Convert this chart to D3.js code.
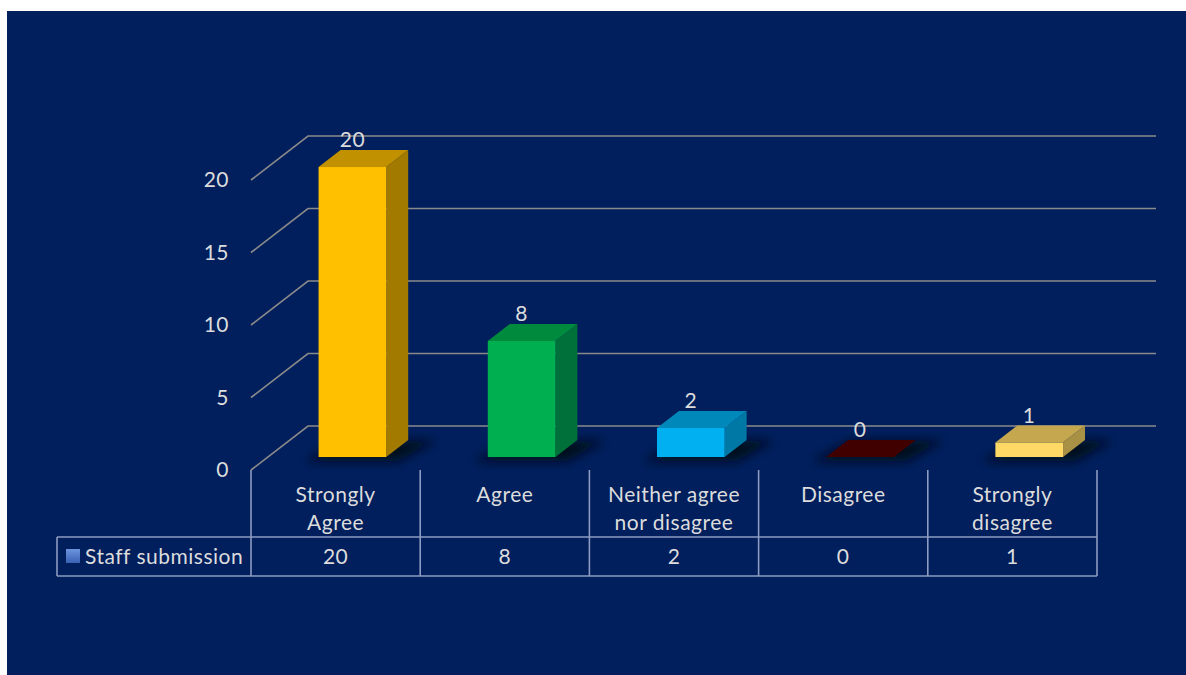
<!DOCTYPE html>
<html><head><meta charset="utf-8">
<script src="https://cdn.jsdelivr.net/npm/d3@7"></script>
<style>html,body{margin:0;padding:0;background:#fff;}svg{display:block;}</style>
</head><body>
<script>
const categories = ["Strongly Agree", "Agree", "Neither agree nor disagree", "Disagree", "Strongly disagree"];
const categoryLines = [["Strongly", "Agree"], ["Agree"], ["Neither agree", "nor disagree"], ["Disagree"], ["Strongly", "disagree"]];
const seriesName = "Staff submission";
const values = [20, 8, 2, 0, 1];
const yTicks = [0, 5, 10, 15, 20];
const frontColors = ["#FFC000", "#00B050", "#00B0F0", "#400000", "#FFD966"];
const topColors = ["#C29100", "#008A3E", "#0088BA", "#400000", "#C4A74F"];
const sideColors = ["#A27A00", "#00703A", "#0078A6", "#300000", "#A89044"];

const W = 1186, H = 675;
const svg = d3.select("body").append("svg").attr("width", W).attr("height", H);
const defs = svg.append("defs");
defs.append("filter").attr("id", "shadow").attr("x", "-50%").attr("y", "-100%").attr("width", "200%").attr("height", "300%")
  .append("feGaussianBlur").attr("stdDeviation", 5);
const lg = defs.append("linearGradient").attr("id", "legGrad").attr("x1", 0).attr("y1", 0).attr("x2", 0).attr("y2", 1);
lg.append("stop").attr("offset", 0).attr("stop-color", "#6C94DE");
lg.append("stop").attr("offset", 1).attr("stop-color", "#3A62B4");

svg.append("rect").attr("x", 7).attr("y", 11).attr("width", W - 7).attr("height", H - 11).attr("fill", "#001F5C");

const FONT = "Lato, 'Open Sans', sans-serif";
const FS = 21, LS = 0.5;
const TXT = "#DCDCDC";

// geometry
const x0 = 251, x1 = 1097, floorY = 470;
const depthX = 57, depthY = -44;
const tFront = 0.295, tBack = 0.68;
const x = d3.scaleBand().domain(categories).range([x0, x1]).padding(0);
const h = d3.scaleLinear().domain([0, 20]).range([0, 290]);
const barW = x.bandwidth() / 2.5;

function styleText(sel) {
  return sel.attr("fill", TXT).attr("font-family", FONT).attr("font-size", FS).attr("letter-spacing", LS);
}

// gridlines (left wall diagonals + back wall)
const grid = svg.append("g").attr("fill", "none").attr("stroke", "#8A8A8A").attr("stroke-width", 1.6);
yTicks.forEach(v => {
  const yf = floorY - h(v);
  grid.append("path").attr("d", `M${x0},${yf}L${x0 + depthX},${yf + depthY}L1156,${yf + depthY}`);
});

// y tick labels
styleText(svg.append("g").selectAll("text").data(yTicks).join("text")
  .attr("x", 229).attr("y", v => floorY - h(v)).attr("dy", "0.35em")
  .attr("text-anchor", "end"))
  .text(v => v);

// bars
const bars = categories.map((c, i) => {
  const cx = x(c) + x.bandwidth() / 2 + tFront * depthX;
  const fx0 = cx - barW / 2, fx1 = cx + barW / 2;
  const fyb = floorY + tFront * depthY;
  const dX = (tBack - tFront) * depthX, dY = (tBack - tFront) * depthY;
  const fyt = fyb - h(values[i]);
  return {i, c, v: values[i], cx, fx0, fx1, fyb, fyt, dX, dY};
});

// shadows
svg.append("g").selectAll("path").data(bars).join("path")
  .attr("d", b => `M${b.fx0 - 12},${b.fyb + 4}L${b.fx1 + 12},${b.fyb + 4}L${b.fx1 + b.dX + 26},${b.fyb + b.dY + 1}L${b.fx0 + b.dX + 4},${b.fyb + b.dY + 1}Z`)
  .attr("fill", "#000814").attr("opacity", 0.9).attr("filter", "url(#shadow)");

const bg = svg.append("g");
bars.forEach(b => {
  const g = bg.append("g");
  g.append("path").attr("d", `M${b.fx1},${b.fyb}L${b.fx1 + b.dX},${b.fyb + b.dY}L${b.fx1 + b.dX},${b.fyt + b.dY}L${b.fx1},${b.fyt}Z`)
    .attr("fill", sideColors[b.i]);
  g.append("path").attr("d", `M${b.fx0},${b.fyt}L${b.fx1},${b.fyt}L${b.fx1 + b.dX},${b.fyt + b.dY}L${b.fx0 + b.dX},${b.fyt + b.dY}Z`)
    .attr("fill", topColors[b.i]);
  if (b.v > 0) {
    g.append("rect").attr("x", b.fx0).attr("y", b.fyt).attr("width", b.fx1 - b.fx0).attr("height", b.fyb - b.fyt)
      .attr("fill", frontColors[b.i]);
  }
});

// data labels
styleText(svg.append("g").selectAll("text").data(bars).join("text")
  .attr("x", b => b.cx).attr("y", b => b.fyt + b.dY - 3)
  .attr("text-anchor", "middle"))
  .text(b => b.v);

// data table
const tTop = 470, tMid = 537, tBot = 576, legL = 57;
const tl = svg.append("g").attr("stroke", "#8D9CC0").attr("stroke-width", 1.6).attr("fill", "none");
tl.append("line").attr("x1", legL).attr("x2", x1).attr("y1", tMid).attr("y2", tMid);
tl.append("line").attr("x1", legL).attr("x2", x1).attr("y1", tBot).attr("y2", tBot);
tl.append("line").attr("x1", legL).attr("x2", legL).attr("y1", tMid).attr("y2", tBot);
const bounds = categories.map(c => x(c)).concat([x1]);
tl.selectAll("line.v").data(bounds).join("line").attr("class", "v")
  .attr("x1", d => d).attr("x2", d => d).attr("y1", tTop).attr("y2", tBot);

// category labels
const cl = styleText(svg.append("g")).attr("text-anchor", "middle");
categories.forEach((c, i) => {
  const t = cl.append("text");
  categoryLines[i].forEach((ln, k) => {
    t.append("tspan").attr("x", x(c) + x.bandwidth() / 2).attr("y", 502 + k * 28).text(ln);
  });
});
// values row
styleText(svg.append("g").selectAll("text").data(values).join("text")
  .attr("x", (v, i) => x(categories[i]) + x.bandwidth() / 2).attr("y", (tMid + tBot) / 2).attr("dy", "0.35em")
  .attr("text-anchor", "middle"))
  .text(v => v);

// legend key
svg.append("rect").attr("x", 66).attr("y", 549).attr("width", 14).attr("height", 14).attr("fill", "url(#legGrad)");
styleText(svg.append("text").attr("x", 85).attr("y", (tMid + tBot) / 2).attr("dy", "0.35em"))
  .text(seriesName);
</script>
</body></html>
